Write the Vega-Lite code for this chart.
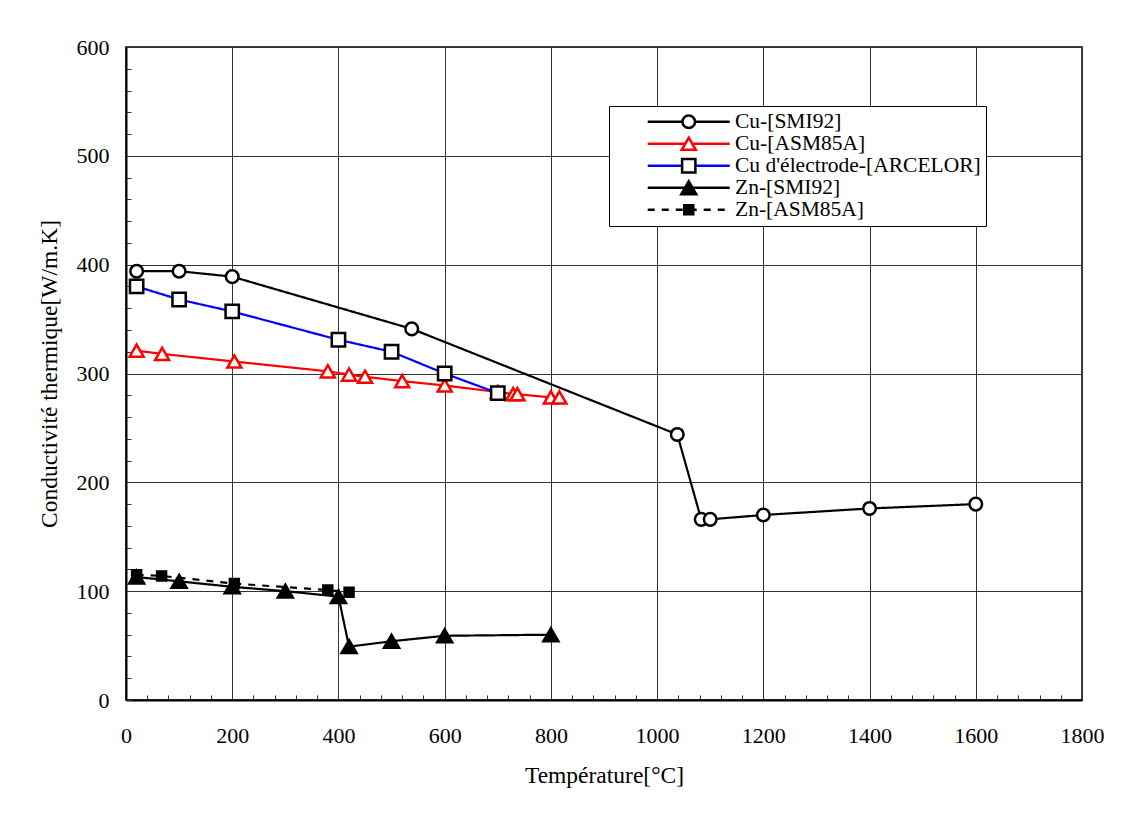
{
  "$schema": "https://vega.github.io/schema/vega-lite/v6.json",
  "width": 956,
  "height": 653,
  "autosize": {"type": "none"},
  "padding": {"left": 126, "top": 47, "right": 60, "bottom": 114},
  "background": "white",
  "config": {
    "view": {"stroke": "black", "strokeWidth": 1.5},
    "font": "Liberation Serif",
    "axis": {
      "labelFont": "Liberation Serif",
      "labelFontSize": 22,
      "labelColor": "black",
      "titleFont": "Liberation Serif",
      "titleFontSize": 23.5,
      "titleFontWeight": "normal",
      "titleColor": "black",
      "domainColor": "black",
      "domainWidth": 2,
      "tickColor": "#333",
      "tickWidth": 1,
      "tickSize": -5,
      "gridColor": "#333",
      "gridWidth": 1,
      "labelOverlap": false,
      "labelFlush": false,
      "labelBound": false
    }
  },
  "data": {
    "values": [
      {"serie": "Cu-[SMI92]", "ordre": 1, "temperature": 20, "conductivite": 394},
      {"serie": "Cu-[SMI92]", "ordre": 1, "temperature": 100, "conductivite": 394},
      {"serie": "Cu-[SMI92]", "ordre": 1, "temperature": 200, "conductivite": 389},
      {"serie": "Cu-[SMI92]", "ordre": 1, "temperature": 538, "conductivite": 341},
      {"serie": "Cu-[SMI92]", "ordre": 1, "temperature": 1038, "conductivite": 244},
      {"serie": "Cu-[SMI92]", "ordre": 1, "temperature": 1083, "conductivite": 166},
      {"serie": "Cu-[SMI92]", "ordre": 1, "temperature": 1100, "conductivite": 166},
      {"serie": "Cu-[SMI92]", "ordre": 1, "temperature": 1200, "conductivite": 170},
      {"serie": "Cu-[SMI92]", "ordre": 1, "temperature": 1400, "conductivite": 176},
      {"serie": "Cu-[SMI92]", "ordre": 1, "temperature": 1600, "conductivite": 180},
      {"serie": "Cu-[ASM85A]", "ordre": 2, "temperature": 20, "conductivite": 321},
      {"serie": "Cu-[ASM85A]", "ordre": 2, "temperature": 68, "conductivite": 318},
      {"serie": "Cu-[ASM85A]", "ordre": 2, "temperature": 204, "conductivite": 311},
      {"serie": "Cu-[ASM85A]", "ordre": 2, "temperature": 380, "conductivite": 302},
      {"serie": "Cu-[ASM85A]", "ordre": 2, "temperature": 420, "conductivite": 299},
      {"serie": "Cu-[ASM85A]", "ordre": 2, "temperature": 450, "conductivite": 297},
      {"serie": "Cu-[ASM85A]", "ordre": 2, "temperature": 520, "conductivite": 293},
      {"serie": "Cu-[ASM85A]", "ordre": 2, "temperature": 600, "conductivite": 289},
      {"serie": "Cu-[ASM85A]", "ordre": 2, "temperature": 700, "conductivite": 283},
      {"serie": "Cu-[ASM85A]", "ordre": 2, "temperature": 729, "conductivite": 281},
      {"serie": "Cu-[ASM85A]", "ordre": 2, "temperature": 737, "conductivite": 281},
      {"serie": "Cu-[ASM85A]", "ordre": 2, "temperature": 800, "conductivite": 278},
      {"serie": "Cu-[ASM85A]", "ordre": 2, "temperature": 816, "conductivite": 278},
      {"serie": "Cu d'électrode-[ARCELOR]", "ordre": 3, "temperature": 20, "conductivite": 380},
      {"serie": "Cu d'électrode-[ARCELOR]", "ordre": 3, "temperature": 100, "conductivite": 368},
      {"serie": "Cu d'électrode-[ARCELOR]", "ordre": 3, "temperature": 200, "conductivite": 357},
      {"serie": "Cu d'électrode-[ARCELOR]", "ordre": 3, "temperature": 400, "conductivite": 331},
      {"serie": "Cu d'électrode-[ARCELOR]", "ordre": 3, "temperature": 500, "conductivite": 320},
      {"serie": "Cu d'électrode-[ARCELOR]", "ordre": 3, "temperature": 600, "conductivite": 300},
      {"serie": "Cu d'électrode-[ARCELOR]", "ordre": 3, "temperature": 700, "conductivite": 282},
      {"serie": "Zn-[SMI92]", "ordre": 4, "temperature": 20, "conductivite": 113},
      {"serie": "Zn-[SMI92]", "ordre": 4, "temperature": 100, "conductivite": 109},
      {"serie": "Zn-[SMI92]", "ordre": 4, "temperature": 200, "conductivite": 104},
      {"serie": "Zn-[SMI92]", "ordre": 4, "temperature": 300, "conductivite": 100},
      {"serie": "Zn-[SMI92]", "ordre": 4, "temperature": 400, "conductivite": 95},
      {"serie": "Zn-[SMI92]", "ordre": 4, "temperature": 420, "conductivite": 49},
      {"serie": "Zn-[SMI92]", "ordre": 4, "temperature": 500, "conductivite": 54},
      {"serie": "Zn-[SMI92]", "ordre": 4, "temperature": 600, "conductivite": 59},
      {"serie": "Zn-[SMI92]", "ordre": 4, "temperature": 800, "conductivite": 60},
      {"serie": "Zn-[ASM85A]", "ordre": 5, "temperature": 20, "conductivite": 115},
      {"serie": "Zn-[ASM85A]", "ordre": 5, "temperature": 67, "conductivite": 114},
      {"serie": "Zn-[ASM85A]", "ordre": 5, "temperature": 204, "conductivite": 107},
      {"serie": "Zn-[ASM85A]", "ordre": 5, "temperature": 380, "conductivite": 101},
      {"serie": "Zn-[ASM85A]", "ordre": 5, "temperature": 420, "conductivite": 99}
    ]
  },
  "encoding": {
    "x": {
      "field": "temperature",
      "type": "quantitative",
      "scale": {"domain": [0, 1800], "nice": false, "zero": false},
      "axis": {
        "title": "Température[°C]",
        "values": [0,40,80,120,160,200,240,280,320,360,400,440,480,520,560,600,640,680,720,760,800,840,880,920,960,1000,1040,1080,1120,1160,1200,1240,1280,1320,1360,1400,1440,1480,1520,1560,1600,1640,1680,1720,1760,1800],
        "labelExpr": "datum.value % 200 === 0 ? '' + datum.value : ''",
        "gridOpacity": {"condition": {"test": "datum.value % 200 === 0", "value": 1}, "value": 0},
        "labelPadding": 30,
        "titlePadding": 17
      }
    },
    "y": {
      "field": "conductivite",
      "type": "quantitative",
      "scale": {"domain": [0, 600], "nice": false},
      "axis": {
        "title": "Conductivité thermique[W/m.K]",
        "values": [0,20,40,60,80,100,120,140,160,180,200,220,240,260,280,300,320,340,360,380,400,420,440,460,480,500,520,540,560,580,600],
        "labelExpr": "datum.value % 100 === 0 ? '' + datum.value : ''",
        "gridOpacity": {"condition": {"test": "datum.value % 100 === 0", "value": 1}, "value": 0},
        "labelPadding": 22,
        "titlePadding": 15
      }
    }
  },
  "layer": [
    {
      "mark": {"type": "line", "strokeWidth": 2.2},
      "encoding": {
        "color": {
          "field": "serie",
          "type": "nominal",
          "scale": {
            "domain": ["Cu-[SMI92]", "Cu-[ASM85A]", "Cu d'électrode-[ARCELOR]", "Zn-[SMI92]", "Zn-[ASM85A]"],
            "range": ["#000000", "#ff0000", "#0000ff", "#000000", "#000000"]
          },
          "legend": {
            "title": null,
            "orient": "none",
            "legendX": 483,
            "legendY": 59,
            "fillColor": "white",
            "strokeColor": "black",
            "padding": 5,
            "clipHeight": 21.5,
            "symbolType": "M-5.86,0L5.86,0",
            "symbolSize": 196,
            "symbolStrokeWidth": 2.5,
            "symbolOffset": 64,
            "labelOffset": 35.5,
            "labelFont": "Liberation Serif",
            "labelFontSize": 21.5,
            "labelColor": "black",
            "labelLimit": 500,
            "rowPadding": -3
          }
        },
        "strokeDash": {
          "field": "serie",
          "type": "nominal",
          "scale": {
            "domain": ["Cu-[SMI92]", "Cu-[ASM85A]", "Cu d'électrode-[ARCELOR]", "Zn-[SMI92]", "Zn-[ASM85A]"],
            "range": [[1, 0], [1, 0], [1, 0], [1, 0], [7, 7]]
          }
        }
      }
    },
    {
      "mark": {"type": "point", "size": 196, "strokeWidth": 2.5, "opacity": 1},
      "encoding": {
        "shape": {
          "field": "ordre",
          "type": "nominal",
          "scale": {
            "domain": [1, 2, 3, 4, 5],
            "range": [
              "M-0.9,0A0.9,0.9,0,1,0,0.9,0A0.9,0.9,0,1,0,-0.9,0Z",
              "M0,-0.87L1,0.87L-1,0.87Z",
              "M-0.95,-0.95L0.95,-0.95L0.95,0.95L-0.95,0.95Z",
              "M0,-0.92L1.07,0.92L-1.07,0.92Z",
              "M-0.64,-0.64L0.64,-0.64L0.64,0.64L-0.64,0.64Z"
            ]
          },
          "legend": {
            "title": null,
            "orient": "none",
            "legendX": 483,
            "legendY": 59,
            "padding": 5,
            "clipHeight": 21.5,
            "symbolSize": 196,
            "symbolStrokeWidth": 2.5,
            "symbolOpacity": 1,
            "symbolOffset": 64,
            "labelOffset": 35.5,
            "labelFont": "Liberation Serif",
            "labelFontSize": 21.5,
            "labelExpr": "''",
            "labelOpacity": 0,
            "labelLimit": 500,
            "rowPadding": -3
          }
        },
        "fill": {
          "field": "ordre",
          "type": "nominal",
          "scale": {"domain": [1, 2, 3, 4, 5], "range": ["#ffffff", "#ffffff", "#ffffff", "#000000", "#000000"]}
        },
        "stroke": {
          "field": "ordre",
          "type": "nominal",
          "scale": {"domain": [1, 2, 3, 4, 5], "range": ["#000000", "#ff0000", "#000000", "#000000", "#000000"]}
        }
      }
    }
  ]
}
